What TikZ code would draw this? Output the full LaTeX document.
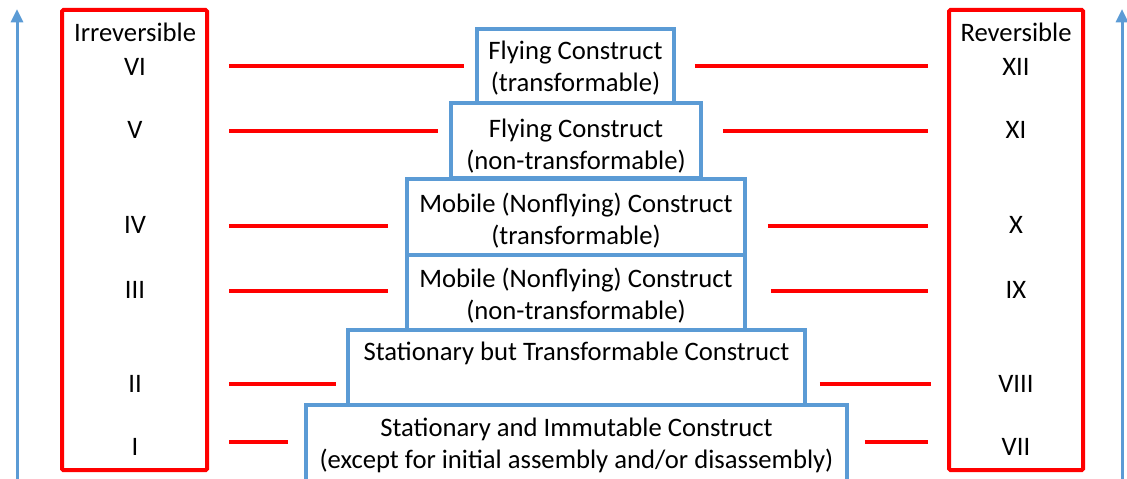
\documentclass[tikz,border=0pt]{standalone}
\usepackage{fontspec}
\setmainfont{Carlito}
\usetikzlibrary{positioning,arrows.meta}
\definecolor{boxblue}{RGB}{91,155,213}

\begin{document}
\begin{tikzpicture}[x=0.75pt,y=-0.75pt,font=\fontsize{20}{24}\selectfont,
		blk/.style={draw=boxblue,line width=2.7pt,fill=white,inner sep=0pt},
		side/.style={draw=red,line width=3pt,rounded corners=1pt,minimum width=#1,minimum height=345pt},
		tag/.style={align=center,inner sep=0pt,anchor=north},
		rline/.style={red,line width=2.5pt},
		axis/.style={boxblue,line width=2.25pt,-{Triangle[length=10pt,width=9pt]}}]
	\useasboundingbox (0,0) rectangle (1127,478);

	% arrows on both sides
	\coordinate (lbot) at (17,480);
	\coordinate (ltop) at (17,9);
	\coordinate (rbot) at (1122,480);
	\coordinate (rtop) at (1122,9);
	\draw[axis] (lbot) -- (ltop);
	\draw[axis] (rbot) -- (rtop);

	% red side boxes
	\node[side=108.75pt] (irr) at (134.5,240) {};
	\node[side=100.5pt] (rev) at (1016,240) {};
	\node (irrt) at (135,32) {Irreversible};
	\node (revt) at (1016,32) {Reversible};
	\foreach \n/\y in {VI/67,V/130,IV/225,III/290,II/384,I/447}
		\node (l\n) at (135,\y) {\n};
	\foreach \n/\y in {XII/67,XI/130,X/225,IX/290,VIII/384,VII/447}
		\node (r\n) at (1016,\y) {\n};

	% the blue stack
	\node[blk,minimum width=405.75pt,minimum height=63.75pt] (s2) at (576.5,447.5) {};
	\node[blk,minimum width=342.75pt,minimum height=56.25pt] (s1) at (576.5,367.5) {};
	\node[blk,minimum width=253.5pt,minimum height=56.25pt] (m2) at (576,292.5) {};
	\node[blk,minimum width=253.5pt,minimum height=57pt] (m1) at (576,217) {};
	\node[blk,minimum width=187.5pt,minimum height=56.25pt] (f2) at (576,140.5) {};
	\node[blk,minimum width=147.75pt,minimum height=55.5pt] (f1) at (575.5,66) {};

	\node[tag] at ([yshift=-10pt]f1.north) {Flying Construct\\(transformable)};
	\node[tag] at ([yshift=-13pt]f2.north) {Flying Construct\\(non-transformable)};
	\node[tag] at ([yshift=-11.5pt]m1.north) {Mobile (Nonflying) Construct\\(transformable)};
	\node[tag] at ([yshift=-11pt]m2.north) {Mobile (Nonflying) Construct\\(non-transformable)};
	\node[tag] at ([yshift=-10pt]s1.north) {Stationary but Transformable Construct};
	\node[tag] at ([yshift=-10.75pt]s2.north) {Stationary and Immutable Construct\\(except for initial assembly and/or disassembly)};

	% red links
	\foreach \b/\y/\gl/\gr/\e in {f1/66/11/19/19, f2/131/11/20/19, m1/226/17/21/19, m2/291/17/24/19, s1/384/10/13/16, s2/442/16/16/19} {
		\coordinate (y\b) at (0,\y);
		\draw[rline] ([xshift=15pt]irr.east |- y\b) -- ([xshift=-\gl*0.75pt]\b.west |- y\b);
		\draw[rline] ([xshift=\gr*0.75pt]\b.east |- y\b) -- ([xshift=-\e*0.75pt]rev.west |- y\b);
	}
\end{tikzpicture}
\end{document}
